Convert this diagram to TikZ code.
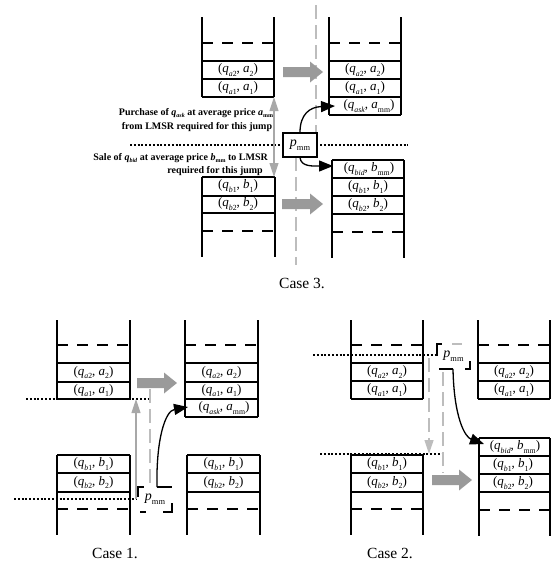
\documentclass[tikz,border=0pt]{standalone}
\usepackage{fontspec}
\usepackage{graphicx}
\setmainfont{Liberation Serif}
\usetikzlibrary{arrows.meta}
\definecolor{fatgray}{HTML}{9A9A9A}
\definecolor{thingray}{HTML}{A8A8A8}
\definecolor{dashgray}{HTML}{BDBDBD}
\newcommand\sbs[1]{\raisebox{-0.6ex}{\scalebox{0.6}{#1}}}
\newcommand\rtx[4]{(\textit{#1}\sbs{#2}, \textit{#3}\sbs{#4})}
\newcommand\pmmtxt{\textit{p}\sbs{mm}}
\newcommand\obook[6]{%
  \draw[bookline] (#1,#3) -- (#1,#4) (#2,#3) -- (#2,#4);
  \foreach \yy in {#6} {\draw[bookline] (#1,\yy) -- (#2,\yy);}
  \draw[bookdash] (#1,#5) -- (#2,#5);}
\newcommand\fatarr[3]{%
  \fill[fatgray] (#1,#3-5) -- (#2-13,#3-5) -- (#2-13,#3-10.5) -- (#2,#3)
     -- (#2-13,#3+10.5) -- (#2-13,#3+5) -- (#1,#3+5) -- cycle;}
\tikzset{
  bookline/.style={line width=1.3pt, black},
  bookdash/.style={line width=1.3pt, dash pattern=on 11pt off 9pt},
  rowlbl/.style={inner sep=0pt, font=\fontsize{13}{14}\selectfont},
  dotline/.style={line width=1.2pt, dash pattern=on 2pt off 1.8pt},
  grayarr/.style={line width=1.1pt, thingray, -{Triangle[length=14pt,width=9pt]}},
  graydash/.style={line width=1.2pt, dashgray, dash pattern=on 14pt off 6pt},
  curvearr/.style={line width=1.3pt, -{Triangle[length=14pt,width=11pt]}},
  cornerline/.style={line width=1.1pt},
  capt/.style={font=\fontsize{15.5}{17}\selectfont, inner sep=0pt},
  note/.style={font=\bfseries\fontsize{10}{13}\selectfont, inner sep=0pt},
  pbox/.style={draw, line width=1.1pt, fill=white, minimum width=34pt, minimum height=24pt, inner sep=0pt, font=\fontsize{14}{15}\selectfont},
  pfree/.style={minimum width=34pt, minimum height=25pt, inner sep=0pt, font=\fontsize{14}{15}\selectfont},
}
\begin{document}
\begin{tikzpicture}[x=1pt,y=-1pt]
\useasboundingbox (0,0) rectangle (557,568);

% ================= CASE 3 =================
\draw[graydash] (316,5) -- (316,133);
\draw[graydash] (296,157) -- (296,265);
\draw[dotline] (130,145) -- (408,145);
\obook{202}{274}{17}{97}{43}{61,79,97}
\obook{329}{401}{17}{115}{43}{61,79,97,115}
\obook{202}{275}{177}{257}{231}{177,196,213}
\obook{332}{404}{160}{258}{232}{160,178,196,214}
\node[rowlbl] (c3la2) at (238,70) {\rtx{q}{\textit{a}2}{a}{2}};
\node[rowlbl] (c3la1) at (238,88) {\rtx{q}{\textit{a}1}{a}{1}};
\node[rowlbl] (c3ra2) at (365,70) {\rtx{q}{\textit{a}2}{a}{2}};
\node[rowlbl] (c3ra1) at (365,88) {\rtx{q}{\textit{a}1}{a}{1}};
\node[rowlbl] (c3rask) at (369,106) {\rtx{q}{\textit{ask}}{a}{mm}};
\node[rowlbl] (c3lb1) at (238,186) {\rtx{q}{\textit{b}1}{b}{1}};
\node[rowlbl] (c3lb2) at (238,204) {\rtx{q}{\textit{b}2}{b}{2}};
\node[rowlbl] (c3rbid) at (369,169) {\rtx{q}{\textit{bid}}{b}{mm}};
\node[rowlbl] (c3rb1) at (368,187) {\rtx{q}{\textit{b}1}{b}{1}};
\node[rowlbl] (c3rb2) at (368,205) {\rtx{q}{\textit{b}2}{b}{2}};
\fatarr{283}{323}{72}
\fatarr{282}{323}{204}
\coordinate (c3up) at (274,97);
\coordinate (c3dn) at (274,177);
\draw[line width=1.1pt, thingray, {Triangle[length=14pt,width=9pt]}-{Triangle[length=14pt,width=9pt]}] (c3up) -- (c3dn);
\node[pbox] (p3) at (300,145) {\pmmtxt};
\coordinate (c3asktip) at (335,106);
\coordinate (c3bidtip) at (333,166);
\draw[curvearr] (p3.north) .. controls (300,114) and (310,107) .. (c3asktip);
\draw[curvearr] (p3.south) .. controls (301,167) and (313,166) .. (c3bidtip);
\node[note] (buy1) at (196,113) {Purchase of \textit{q}\sbs{\textit{ask}} at average price \textit{a}\sbs{mm}};
\node[note] (buy2) at (197,127) {from LMSR required for this jump};
\node[note, anchor=east] (sell1) at (268,158) {Sale of \textit{q}\sbs{\textit{bid}} at average price \textit{b}\sbs{mm} to LMSR};
\node[note, anchor=east] (sell2) at (263,171) {required for this jump};
\node[capt] (cap3) at (302,283) {Case 3.};

% ================= CASE 1 =================
\draw[dotline] (26,399) -- (148,399);
\draw[dotline] (14,499) -- (137,499);
\obook{57}{130}{320}{399}{345}{363,382,399}
\obook{185}{258}{320}{417}{345}{363,382,399,417}
\obook{57}{130}{455}{535}{509}{455,473,492}
\obook{187}{260}{455}{535}{509}{455,473,492}
\node[rowlbl] (c1la2) at (93.5,372.5) {\rtx{q}{\textit{a}2}{a}{2}};
\node[rowlbl] (c1la1) at (93.5,390.5) {\rtx{q}{\textit{a}1}{a}{1}};
\node[rowlbl] (c1ra2) at (221.5,372.5) {\rtx{q}{\textit{a}2}{a}{2}};
\node[rowlbl] (c1ra1) at (221.5,390.5) {\rtx{q}{\textit{a}1}{a}{1}};
\node[rowlbl] (c1rask) at (224,408) {\rtx{q}{\textit{ask}}{a}{mm}};
\node[rowlbl] (c1lb1) at (93.5,464) {\rtx{q}{\textit{b}1}{b}{1}};
\node[rowlbl] (c1lb2) at (93.5,482.5) {\rtx{q}{\textit{b}2}{b}{2}};
\node[rowlbl] (c1rb1) at (223.5,464) {\rtx{q}{\textit{b}1}{b}{1}};
\node[rowlbl] (c1rb2) at (223.5,482.5) {\rtx{q}{\textit{b}2}{b}{2}};
\fatarr{137}{177}{383}
\node[pfree] (p1) at (155,499.5) {\pmmtxt};
\draw[graydash] (150,389) -- (p1.north -| 150,0);
\coordinate (c1from) at (136,499);
\coordinate (c1to) at (136,399);
\draw[grayarr] (c1from) -- (c1to);
\draw[cornerline] (138,497) -- (138,487) -- (144,487);
\draw[cornerline] (157,487) -- (172,487);
\draw[cornerline] (140,512) -- (146,512);
\draw[cornerline] (163,512) -- (172,512) -- (172,503);
\coordinate (c1start) at (157,487);
\coordinate (c1asktip) at (188,407);
\draw[curvearr] (c1start) .. controls (156,440) and (165,411) .. (c1asktip);
\node[capt] (cap1) at (115,553) {Case 1.};

% ================= CASE 2 =================
\draw[dotline] (313,355) -- (437,355);
\draw[dotline] (320,454) -- (443,454);
\obook{351}{423}{320}{399}{345}{363,381,399}
\obook{478}{550}{320}{399}{345}{363,381,399}
\obook{351}{423}{455}{535}{509}{455,473,492}
\obook{479}{550}{438}{536}{510}{438,456,474,492}
\node[rowlbl] (c2la2) at (387,372) {\rtx{q}{\textit{a}2}{a}{2}};
\node[rowlbl] (c2la1) at (387,390) {\rtx{q}{\textit{a}1}{a}{1}};
\node[rowlbl] (c2ra2) at (514,372) {\rtx{q}{\textit{a}2}{a}{2}};
\node[rowlbl] (c2ra1) at (514,390) {\rtx{q}{\textit{a}1}{a}{1}};
\node[rowlbl] (c2lb1) at (387,464) {\rtx{q}{\textit{b}1}{b}{1}};
\node[rowlbl] (c2lb2) at (387,482.5) {\rtx{q}{\textit{b}2}{b}{2}};
\node[rowlbl] (c2rbid) at (515,447) {\rtx{q}{\textit{bid}}{b}{mm}};
\node[rowlbl] (c2rb1) at (513,465) {\rtx{q}{\textit{b}1}{b}{1}};
\node[rowlbl] (c2rb2) at (513,483) {\rtx{q}{\textit{b}2}{b}{2}};
\fatarr{432}{472}{480}
\node[pfree] (p2) at (453.5,356.5) {\pmmtxt};
\coordinate (c2dfrom) at (429,358);
\coordinate (c2dto) at (429,454);
\draw[graydash, -{Triangle[length=14pt,width=9pt]}] (c2dfrom) -- (c2dto);
\draw[graydash] (443,372) -- (443,473);
\draw[cornerline] (437,356) -- (437,344) -- (442,344);
\draw[cornerline, dashgray] (452,344) -- (462,344);
\draw[cornerline] (470,361) -- (470,369) -- (465,369);
\draw[cornerline] (439,369) -- (453,369);
\coordinate (c2start) at (453,369);
\coordinate (c2bidtip) at (484,444);
\draw[curvearr] (c2start) .. controls (454,418) and (465,437) .. (c2bidtip);
\node[capt] (cap2) at (390,553) {Case 2.};
\end{tikzpicture}
\end{document}
